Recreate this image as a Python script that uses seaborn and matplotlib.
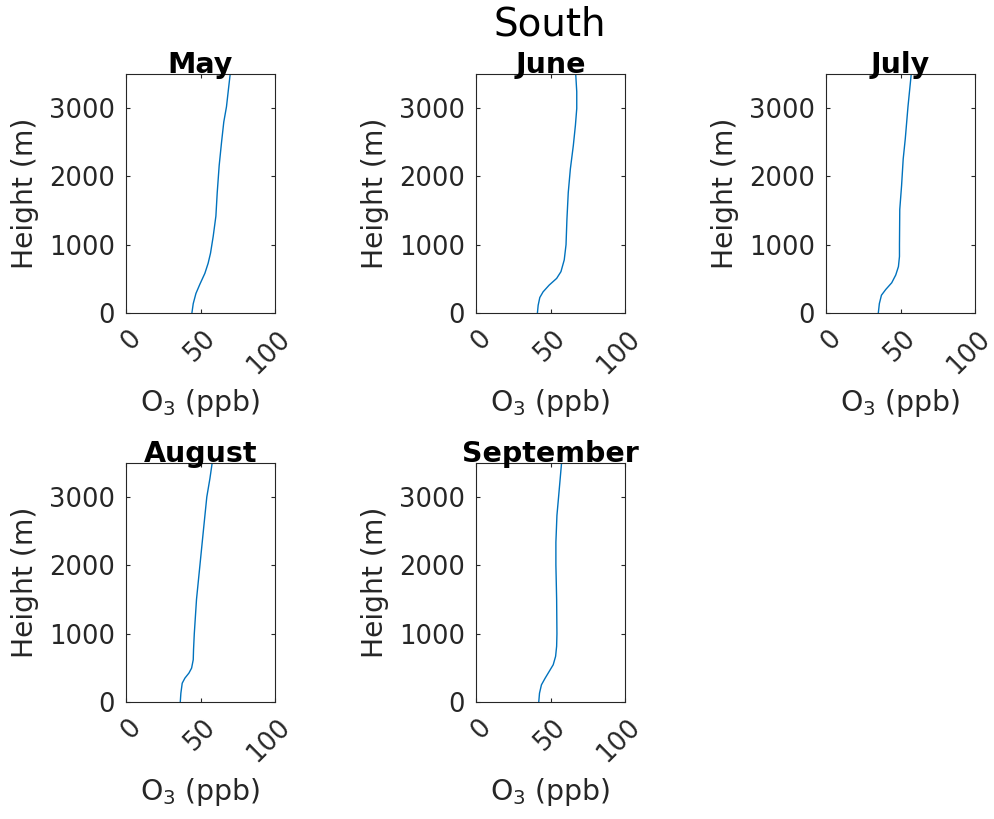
import numpy as np
import pandas as pd
import seaborn as sns
import matplotlib
matplotlib.use("Agg")
import matplotlib.pyplot as plt
from matplotlib.transforms import ScaledTranslation

# Mean O3 profiles, South region
months = ["May", "June", "July", "August", "September"]

height_may = [0, 138, 286, 424, 581, 729, 877, 1123, 1419, 1764, 2158, 2502, 2798, 3020, 3291, 3500]
o3_may = [44.2, 45.1, 46.9, 49.6, 52.9, 55.1, 56.7, 58.5, 60.3, 61.2, 62.5, 64.1, 65.6, 67.4, 68.8, 69.9]

height_jun = [0, 113, 227, 310, 409, 507, 606, 778, 1000, 1369, 1764, 2108, 2453, 2749, 2995, 3241, 3500]
o3_jun = [41.2, 41.7, 42.8, 45.0, 49.1, 54.1, 57.0, 59.2, 60.4, 61.0, 61.9, 63.3, 65.3, 66.7, 67.6, 67.6, 66.9]

height_jul = [0, 138, 261, 345, 443, 557, 680, 828, 1000, 1517, 1862, 2256, 2552, 3020, 3500]
o3_jul = [35.1, 35.8, 37.2, 40.1, 44.1, 46.8, 48.6, 49.3, 49.3, 49.5, 50.7, 51.8, 53.2, 55.0, 57.2]

height_aug = [0, 128, 275, 349, 423, 496, 619, 767, 998, 1504, 2005, 2486, 3002, 3273, 3500]
o3_aug = [36.4, 36.8, 37.7, 39.5, 42.2, 44.0, 45.1, 45.3, 45.8, 47.3, 49.6, 51.8, 54.2, 56.3, 57.8]

height_sep = [0, 128, 251, 349, 447, 545, 668, 816, 998, 1504, 2005, 2339, 2732, 3002, 3500]
o3_sep = [42.1, 42.6, 43.9, 46.4, 49.1, 51.8, 53.4, 54.1, 54.3, 54.1, 53.6, 53.6, 54.3, 55.4, 57.4]

profiles = [
    (height_may, o3_may),
    (height_jun, o3_jun),
    (height_jul, o3_jul),
    (height_aug, o3_aug),
    (height_sep, o3_sep),
]

x_ticks = [0, 50, 100]
y_ticks = [0, 1000, 2000, 3000]

sns.set_theme(style="ticks")
plt.rcParams["font.family"] = ["DejaVu Sans"]

line_color = (0.0, 0.447, 0.741)
text_color = "#262626"

fig = plt.figure(figsize=(9.94, 8.19), dpi=100)

lefts = [0.1268, 0.4789, 0.8310]
bottoms = [0.6178, 0.1429]
w, h = 0.1499, 0.2918
shift = ScaledTranslation(11 / 100, 0, fig.dpi_scale_trans)

for i, (month, (hgt, o3)) in enumerate(zip(months, profiles)):
    ax = fig.add_axes([lefts[i % 3], bottoms[i // 3], w, h])
    df = pd.DataFrame({"o3": o3, "height": hgt})
    sns.lineplot(data=df, x="o3", y="height", sort=False, estimator=None,
                 color=line_color, linewidth=1.0, ax=ax)
    ax.set_xlim(0, 100)
    ax.set_ylim(0, 3500)
    ax.set_xticks(x_ticks)
    ax.set_yticks(y_ticks)
    ax.tick_params(direction="in", length=3, width=0.8, top=True, right=True,
                   labelsize=18.5, colors=text_color)
    ax.tick_params(axis="y", pad=8)
    ax.tick_params(axis="x", pad=15.5)
    for lab in ax.get_xticklabels():
        lab.set_rotation(45)
        lab.set_ha("right")
        lab.set_va("center")
        lab.set_rotation_mode("anchor")
        lab.set_transform(lab.get_transform() + shift)
    for sp in ax.spines.values():
        sp.set_color(text_color)
        sp.set_linewidth(0.8)
    ax.set_xlabel("O$_3$ (ppb)", fontsize=20.3, color=text_color, labelpad=6)
    ax.set_ylabel("Height (m)", fontsize=20.3, color=text_color, labelpad=7)
    ax.set_title(month, fontsize=20.5, fontweight="bold", color="black", pad=1)

fig.text(0.5535, 0.970, "South", ha="center", va="center", fontsize=28, color="black")

fig.savefig("out.png", dpi=100, facecolor="white")
